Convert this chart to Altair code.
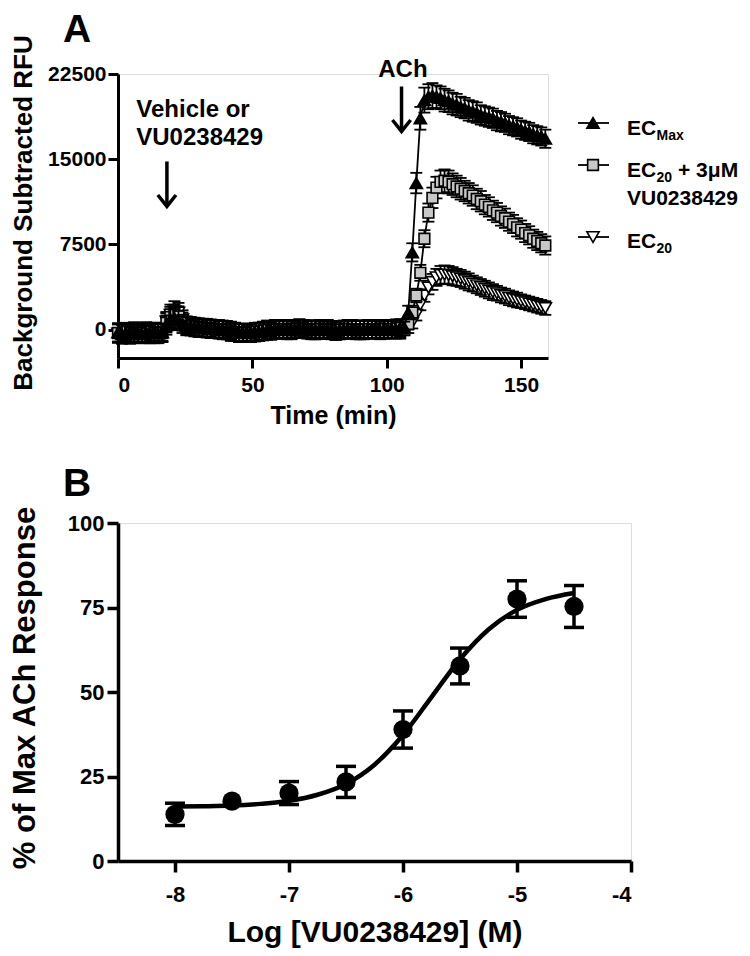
import altair as alt
import pandas as pd

FONT = "Liberation Sans"

# ---------------- Panel A data (time course) ----------------
time_min = [0, 1.5, 3, 4.5, 6, 7.5, 9, 10.5, 12, 13.5, 15, 16.5, 18, 19.5, 21, 22.5, 24, 25.5, 27, 28.5,
            30, 31.5, 33, 34.5, 36, 37.5, 39, 40.5, 42, 43.5, 45, 46.5, 48, 49.5, 51, 52.5, 54, 55.5, 57, 58.5,
            60, 61.5, 63, 64.5, 66, 67.5, 69, 70.5, 72, 73.5, 75, 76.5, 78, 79.5, 81, 82.5, 84, 85.5, 87, 88.5,
            90, 91.5, 93, 94.5, 96, 97.5, 99, 100.5, 102, 103.5, 105, 106.5, 108, 109.5, 111, 112.5, 114, 115.5,
            117, 118.5, 120, 121.5, 123, 124.5, 126, 127.5, 129, 130.5, 132, 133.5, 135, 136.5, 138, 139.5,
            141, 142.5, 144, 145.5, 147, 148.5, 150, 151.5, 153, 154.5, 156, 157.5, 159]

ecmax = ([-250, -400, -300, -350, -200, -300, -400, -250, -300, -200, -350, -250,
          400, 900, 1000, 800, 500,
          300, 250, 200, 200, 150, 100, 100, 50, 0, 0, -50,
          -100, -200, -250, -300, -300, -250, -250, -200, -150,
          -100, -50, 0, 50, 0, -50, 0, 50, 100, 50, 0, 0, -50, 0, 50, 0, -50, -100, -50, 0,
          0, 50, 0, -50, 0, 0, 50, 0, -50, 0, 50, 0, 0, 100]
         + [200, 1500, 6800, 12900, 18600, 20200, 20500, 20600, 20500, 20400, 20200, 20100,
            19900, 19800, 19600, 19500, 19300, 19200, 19100, 18900, 18800, 18700, 18600, 18400,
            18300, 18200, 18000, 17900, 17800, 17600, 17500, 17400, 17200, 17100, 17000, 16800])
ecmax_sem = ([800, 850, 800, 750, 850, 800, 800, 900, 750, 800, 850, 800,
              850, 900, 900, 850, 800,
              800, 750, 800, 800, 750, 800, 800, 750, 800, 800, 750,
              800, 800, 750, 800, 800, 750, 800, 800, 750,
              800, 750, 800, 800, 750, 800, 800, 750, 800, 800, 750, 800, 800, 750, 800, 800, 750,
              800, 800, 750, 800, 800, 750, 800, 800, 750, 800, 800, 750, 800, 800, 750, 800, 800]
             + [500, 600, 800, 900, 1000, 1100, 1100, 1100, 1000, 1000, 1000, 950,
                950, 950, 900, 900, 900, 900, 900, 850, 850, 850, 850, 850,
                850, 800, 800, 800, 800, 800, 800, 800, 800, 800, 800, 800])

ec20_vu = ([-300, -350, -200, -300, -400, -250, -300, -350, -200, -300, -250, -300,
            600, 1100, 1300, 1200, 700,
            350, 300, 250, 150, 150, 100, 50, 50, 0, -50, -50,
            -150, -200, -300, -250, -300, -300, -200, -200, -100,
            -50, -100, 0, 0, 50, 0, -50, 50, 50, 100, 0, -50, 0, 50, 0, -50, -50, -100, 0, 0,
            50, 0, -50, -50, 0, 50, 0, 0, -50, 50, 0, 50, 100, 150]
           + [0, 500, 1500, 3000, 5000, 8000, 10300, 11600, 12500, 13000, 13100, 13000,
              12800, 12600, 12400, 12200, 12000, 11800, 11500, 11300, 11000, 10800, 10500, 10300,
              10000, 9800, 9500, 9300, 9000, 8800, 8500, 8300, 8000, 7800, 7600, 7400])
ec20_vu_sem = ([850, 800, 800, 750, 800, 850, 800, 750, 800, 900, 800, 800,
                850, 900, 900, 850, 800,
                800, 800, 750, 800, 800, 750, 800, 800, 750, 800, 800,
                750, 800, 800, 750, 800, 800, 750, 800, 800,
                750, 800, 800, 750, 800, 800, 750, 800, 800, 750, 800, 800, 750, 800, 800, 750, 800,
                800, 750, 800, 800, 750, 800, 800, 750, 800, 800, 750, 800, 800, 750, 800, 800, 750]
               + [500, 500, 600, 600, 700, 750, 800, 900, 950, 1000, 1000, 1000,
                  950, 950, 950, 900, 900, 900, 900, 900, 850, 850, 850, 850,
                  850, 850, 800, 800, 800, 800, 800, 800, 800, 800, 800, 800])

ec20 = ([-350, -300, -250, -400, -300, -350, -250, -300, -400, -250, -300, -200,
         700, 1300, 1600, 1500, 900,
         400, 300, 250, 200, 150, 150, 100, 50, 50, 0, -50,
         -200, -250, -250, -300, -350, -250, -200, -150, -150,
         0, -50, 50, 0, 0, 50, -50, 0, 100, 50, 50, 0, -50, -50, 0, 50, 0, -100, -50, -50,
         0, 50, 50, 0, -50, 0, 0, 50, -50, 0, 0, 50, 50, 0]
        + [0, 200, 600, 1300, 2200, 3000, 3700, 4200, 4600, 4800, 4850, 4800,
           4700, 4600, 4500, 4350, 4200, 4050, 3900, 3750, 3600, 3450, 3300, 3200,
           3050, 2950, 2800, 2700, 2600, 2500, 2400, 2300, 2200, 2100, 2000, 1900])
ec20_sem = ([800, 750, 800, 850, 800, 750, 800, 900, 800, 750, 800, 800,
             850, 900, 900, 850, 800,
             750, 800, 800, 750, 800, 800, 750, 800, 800, 750, 800,
             800, 750, 800, 800, 750, 800, 800, 750, 800,
             800, 750, 800, 800, 750, 800, 800, 750, 800, 800, 750, 800, 800, 750, 800, 800, 750,
             800, 800, 750, 800, 800, 750, 800, 800, 750, 800, 800, 750, 800, 800, 750, 800, 800]
            + [500, 500, 500, 500, 500, 550, 600, 700, 750, 800, 800, 800,
               800, 750, 750, 750, 750, 700, 700, 700, 700, 700, 700, 650,
               650, 650, 650, 650, 650, 600, 600, 600, 600, 600, 600, 600])

# drawing order: EC20 at the back, ECmax on top
series_names = ["EC20", "EC20 + VU", "ECmax"]
series_vals = [ec20, ec20_vu, ecmax]
series_sems = [ec20_sem, ec20_vu_sem, ecmax_sem]
series_shape = ["triangle-down", "square", "triangle-up"]
series_fill = ["white", "#c8c8c8", "black"]
series_size = [150, 115, 150]

# ---------------- Panel B data (concentration response) ----------------
log_conc = [-8.0, -7.5, -7.0, -6.5, -6.0, -5.5, -5.0, -4.5]
pct_resp = [13.8, 17.7, 20.1, 23.4, 38.9, 57.7, 77.5, 75.3]
pct_sem = [3.3, 0.0, 3.4, 4.6, 5.5, 5.3, 5.4, 6.2]

curve_x = [-8.0, -7.75, -7.5, -7.25, -7.0, -6.75, -6.5, -6.25, -6.0, -5.75, -5.5, -5.25, -5.0, -4.75, -4.5]
curve_y = [16.1, 16.2, 16.4, 16.9, 17.8, 19.6, 22.8, 28.5, 37.3, 48.5, 59.7, 68.5, 74.3, 77.5, 79.3]

# ---------------- Panel A chart ----------------
WA, HA = 430, 284
xsA = alt.Scale(domain=[0, 160], nice=False, zero=False)
ysA = alt.Scale(domain=[-2500, 22500], nice=False, zero=False)

common_axis = dict(grid=False, domainColor="black", tickColor="black", labelColor="black",
                   labelFont=FONT, labelFontWeight="bold", titleFont=FONT, titleFontWeight="bold",
                   titleColor="black")

xaxA = alt.Axis(values=[0, 50, 100, 150], domainWidth=3, tickWidth=3, tickSize=10, labelFontSize=21,
                labelPadding=6, title="Time (min)", titleFontSize=25, titleY=65,
                titleBaseline="alphabetic", **common_axis)
yaxA = alt.Axis(values=[0, 7500, 15000, 22500], format="d", domainWidth=3, tickWidth=3, tickSize=10,
                labelFontSize=21, labelPadding=2, title="Background Subtracted RFU", titleFontSize=26,
                titleX=-95, titleY=138.5, titleAngle=270, titleAlign="center", titleBaseline="middle",
                **common_axis)

layersA = []
for name, vals, sems, shp, fil, sz in zip(series_names, series_vals, series_sems, series_shape,
                                          series_fill, series_size):
    if not (len(vals) == len(time_min) and len(sems) == len(time_min)):
        raise ValueError(f"{name}: {len(vals)} {len(sems)} {len(time_min)}")
    d = pd.DataFrame({"t": time_min, "v": vals, "lo": [a - b for a, b in zip(vals, sems)],
                      "hi": [a + b for a, b in zip(vals, sems)]})
    base = alt.Chart(d)
    X = alt.X("t:Q", scale=xsA, axis=xaxA)
    err = base.mark_rule(color="black", strokeWidth=1.8).encode(
        x=X, y=alt.Y("lo:Q", scale=ysA, axis=yaxA), y2="hi:Q")
    cap_lo = base.mark_rule(color="black", strokeWidth=1.8, xOffset=-6, x2Offset=6).encode(
        x=X, x2="t:Q", y=alt.Y("lo:Q", scale=ysA, axis=yaxA))
    cap_hi = base.mark_rule(color="black", strokeWidth=1.8, xOffset=-6, x2Offset=6).encode(
        x=X, x2="t:Q", y=alt.Y("hi:Q", scale=ysA, axis=yaxA))
    line = base.mark_line(color="black", strokeWidth=1.8).encode(
        x=X, y=alt.Y("v:Q", scale=ysA, axis=yaxA))
    pts = base.mark_point(shape=shp, filled=True, fill=fil, stroke="black", strokeWidth=1.6,
                          size=sz, opacity=1).encode(x=X, y=alt.Y("v:Q", scale=ysA, axis=yaxA))
    layersA += [err, cap_lo, cap_hi, line, pts]

# annotations (text and arrows) in data units of panel A
ann_text = ["Vehicle or", "VU0238429", "ACh"]
ann_t = [6.8, 6.8, 106.0]
ann_v = [18700, 16250, 22250]
ann_align = ["left", "left", "center"]
for txt, tt, vv, al in zip(ann_text, ann_t, ann_v, ann_align):
    layersA.append(alt.Chart(pd.DataFrame({"s": [txt], "t": [tt], "v": [vv]})).mark_text(
        align=al, baseline="alphabetic", font=FONT, fontSize=24, fontWeight="bold", color="black"
    ).encode(x=alt.X("t:Q", scale=xsA, axis=xaxA), y=alt.Y("v:Q", scale=ysA, axis=yaxA), text="s:N"))

arrow_t = [18.2, 105.5]
arrow_top = [14800, 21400]
arrow_tip = [10850, 17450]
arr = pd.DataFrame({"t": arrow_t, "top": arrow_top, "tip": arrow_tip})
layersA.append(alt.Chart(arr).mark_rule(color="black", strokeWidth=3.5).encode(
    x=alt.X("t:Q", scale=xsA, axis=xaxA), y=alt.Y("top:Q", scale=ysA, axis=yaxA), y2="tip:Q"))
layersA.append(alt.Chart(arr).mark_point(shape="M -1 -1.25 L 0 0 L 1 -1.25", filled=False, stroke="black",
                                         strokeWidth=3.5, size=330, opacity=1, strokeJoin="miter").encode(
    x=alt.X("t:Q", scale=xsA, axis=xaxA), y=alt.Y("tip:Q", scale=ysA, axis=yaxA)))

# panel letter
layersA.append(alt.Chart(pd.DataFrame({"s": ["A"]})).mark_text(
    align="center", baseline="alphabetic", font=FONT, fontSize=39, fontWeight="bold", color="black").encode(
    text="s:N", x=alt.value(-41), y=alt.value(-32)))

# legend (drawn manually)
def ltext(s, x, y, size):
    return alt.Chart(pd.DataFrame({"s": [s]})).mark_text(
        align="left", baseline="alphabetic", font=FONT, fontSize=size, fontWeight="bold", color="black"
    ).encode(text="s:N", x=alt.value(x), y=alt.value(y))

leg_order = ["ECmax", "EC20 + VU", "EC20"]
leg_y = [49, 91, 163]
for ly, nm in zip(leg_y, leg_order):
    k = series_names.index(nm)
    layersA.append(alt.Chart(pd.DataFrame({"s": [0]})).mark_rule(color="black", strokeWidth=1.8).encode(
        x=alt.value(460), x2=alt.value(491), y=alt.value(ly)))
    layersA.append(alt.Chart(pd.DataFrame({"s": [0]})).mark_point(
        shape=series_shape[k], filled=True, fill=series_fill[k], stroke="black", strokeWidth=1.6,
        size=series_size[k], opacity=1).encode(x=alt.value(475), y=alt.value(ly)))

layersA += [
    ltext("EC", 509, 60.7, 21), ltext("Max", 538.5, 66, 14),
    ltext("EC", 509, 102.7, 21), ltext("20", 538.5, 107.7, 14), ltext("+ 3\u03bcM", 560, 102.7, 21),
    ltext("VU0238429", 509, 131, 21),
    ltext("EC", 509, 174.4, 21), ltext("20", 538.5, 179.4, 14),
]

chartA = alt.layer(*layersA).properties(width=WA, height=HA)

# ---------------- Panel B chart ----------------
WB, HB = 513, 338
xsB = alt.Scale(domain=[-8.5, -4], nice=False, zero=False)
ysB = alt.Scale(domain=[0, 100], nice=False, zero=False)
xaxB = alt.Axis(values=[-8, -7, -6, -5, -4], labelExpr="'' + datum.value", domainWidth=3.5, tickWidth=3.5,
                tickSize=11, labelFontSize=22, labelPadding=12, title="Log [VU0238429] (M)", titleFontSize=30,
                titleY=80, titleBaseline="alphabetic", **common_axis)
yaxB = alt.Axis(values=[0, 25, 50, 75, 100], domainWidth=3.5, tickWidth=3.5, tickSize=11, labelFontSize=22,
                labelPadding=3, title="% of Max ACh Response", titleFontSize=31, titleX=-93, titleY=164.5,
                titleAngle=270, titleAlign="center", titleBaseline="middle", **common_axis)

dB = pd.DataFrame({"x": log_conc, "y": pct_resp, "lo": [a - b for a, b in zip(pct_resp, pct_sem)],
                   "hi": [a + b for a, b in zip(pct_resp, pct_sem)]})
dBerr = dB[[s > 0 for s in pct_sem]]
dC = pd.DataFrame({"x": curve_x, "y": curve_y})
XB = alt.X("x:Q", scale=xsB, axis=xaxB)

curve = alt.Chart(dC).mark_line(color="black", strokeWidth=4.5, interpolate="monotone").encode(
    x=XB, y=alt.Y("y:Q", scale=ysB, axis=yaxB))
errB = alt.Chart(dBerr).mark_rule(color="black", strokeWidth=3.5).encode(
    x=XB, y=alt.Y("lo:Q", scale=ysB, axis=yaxB), y2="hi:Q")
capB_lo = alt.Chart(dBerr).mark_rule(color="black", strokeWidth=3.5, xOffset=-10, x2Offset=10).encode(
    x=XB, x2="x:Q", y=alt.Y("lo:Q", scale=ysB, axis=yaxB))
capB_hi = alt.Chart(dBerr).mark_rule(color="black", strokeWidth=3.5, xOffset=-10, x2Offset=10).encode(
    x=XB, x2="x:Q", y=alt.Y("hi:Q", scale=ysB, axis=yaxB))
ptsB = alt.Chart(dB).mark_point(shape="circle", filled=True, color="black", size=370, opacity=1).encode(
    x=XB, y=alt.Y("y:Q", scale=ysB, axis=yaxB))
letterB = alt.Chart(pd.DataFrame({"s": ["B"]})).mark_text(
    align="center", baseline="alphabetic", font=FONT, fontSize=39, fontWeight="bold", color="black").encode(
    text="s:N", x=alt.value(-41), y=alt.value(-27))

chartB = alt.layer(curve, errB, capB_lo, capB_hi, ptsB, letterB).properties(width=WB, height=HB)

chart = alt.vconcat(chartA, chartB, spacing=165, bounds="flush").properties(
    padding={"left": 0, "top": 2, "right": 0, "bottom": 0}
).configure_view(stroke=None).configure(background="white")

chart.save("out.html", embed_options={"renderer": "svg", "actions": False})
